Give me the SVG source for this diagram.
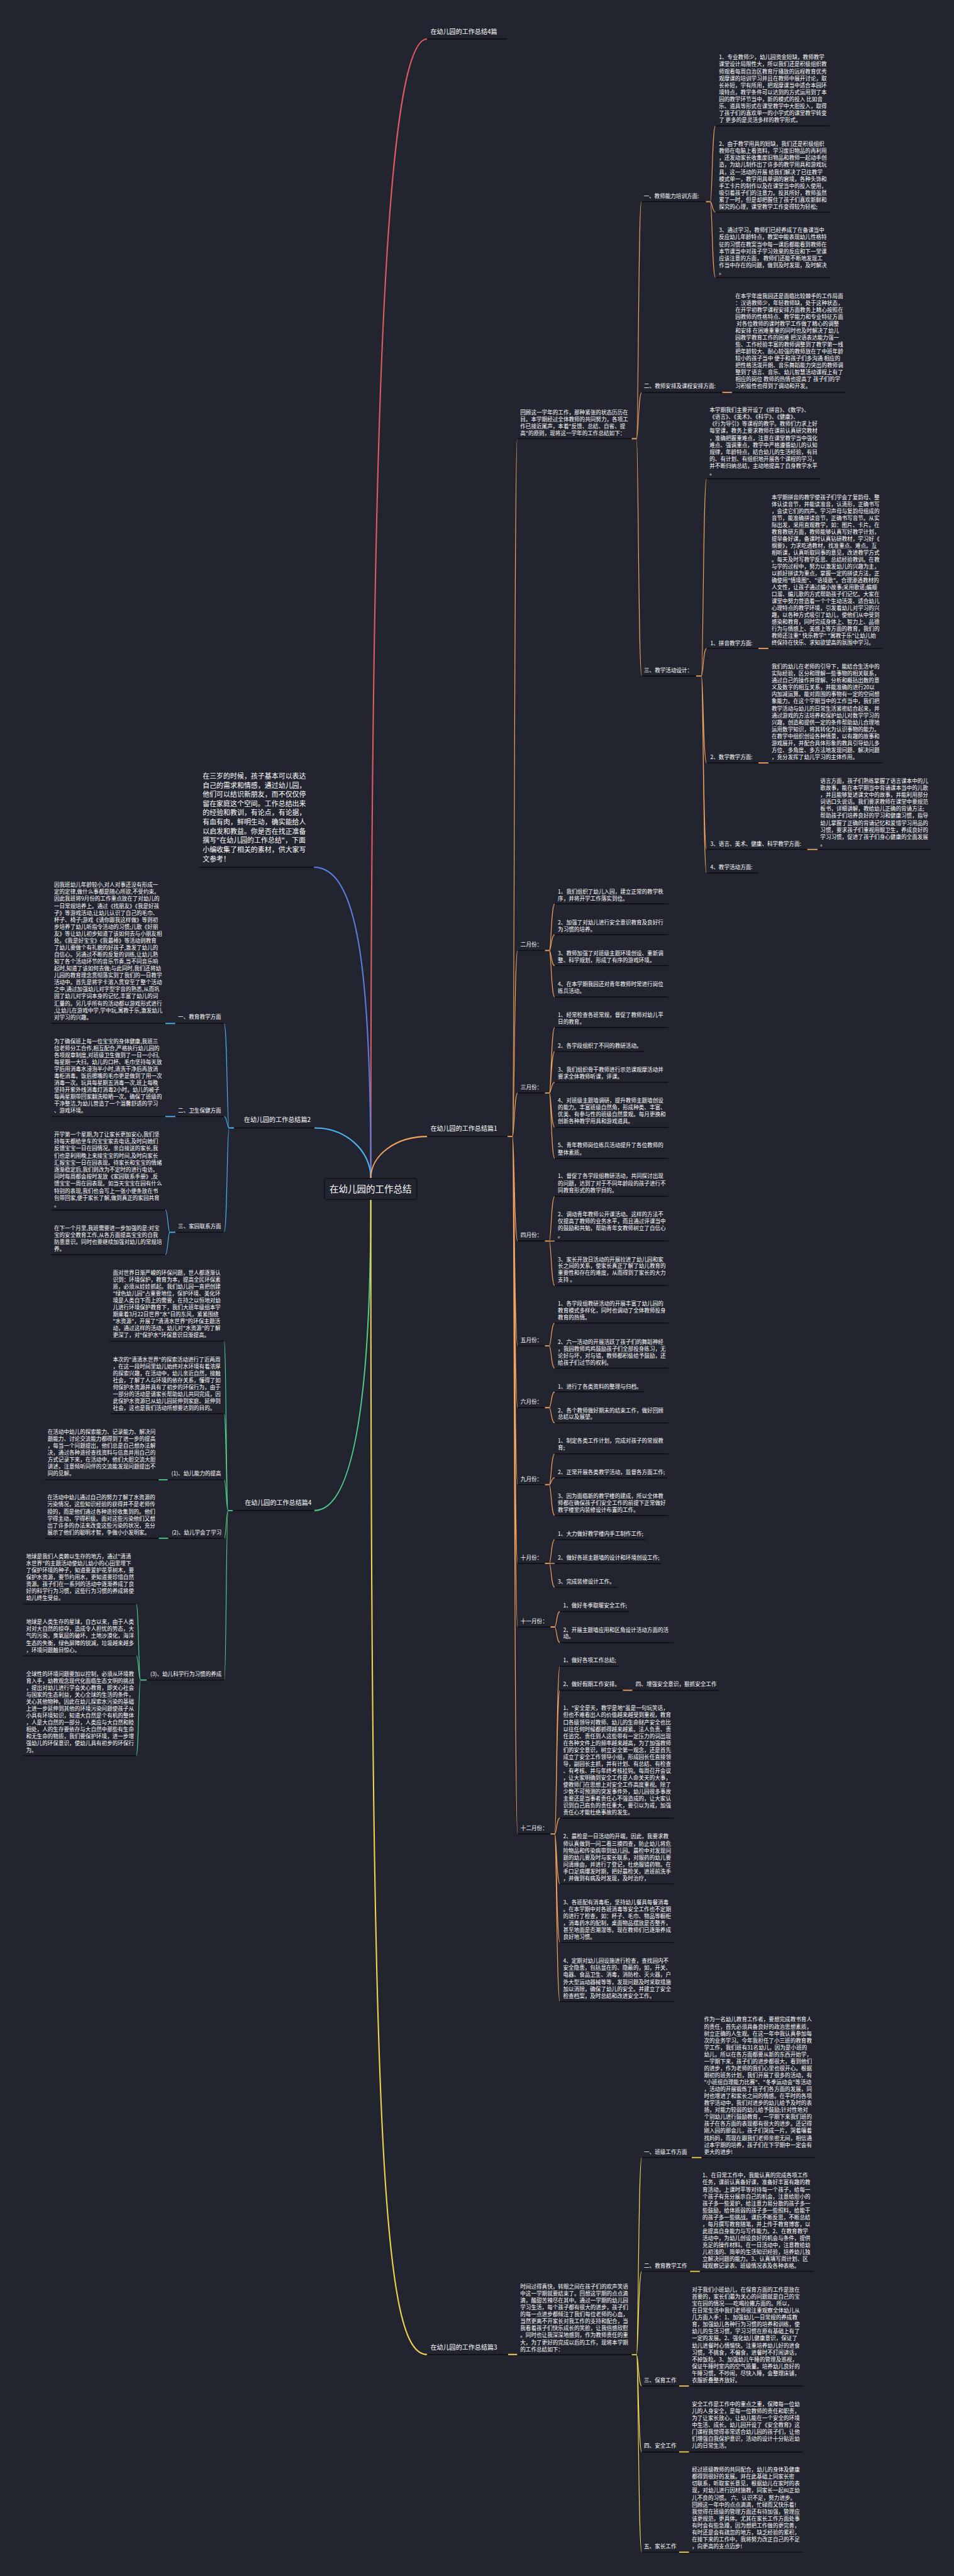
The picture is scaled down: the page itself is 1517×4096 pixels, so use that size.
<svg xmlns="http://www.w3.org/2000/svg" width="1517" height="4096" viewBox="0 0 1517 4096">
<style>
.t{font-family:"Noto Sans CJK SC","Noto Sans",sans-serif;font-size:14.5px;fill:#ffffff}
.l1{font-size:17px}
.intro{font-size:18.5px}
.ctr{font-size:24.5px}
.e{text-anchor:end}
.ul{stroke:#0c0d11;stroke-width:2.5;fill:none}
.c{fill:none;stroke-width:2}
.m{stroke-width:3.5}
.st{stroke-width:3}
.o{stroke:#f4a25c}.y{stroke:#f2d54c}.b{stroke:#4db6ee}.g{stroke:#4fcf8c}.r{stroke:#e35a62}.bl{stroke:#5b7de0}
</style>
<rect width="1517" height="4096" fill="#222530"/>
<g transform="scale(0.5926)">
<g id="connectors">
<!-- main -->
<path class="c m r" d="M995,3161 C995,1200 1030,104.5 1146,104.5"/>
<path class="c m bl" d="M995,3161 C995,2600 960,2327 842.3,2327"/>
<path class="c m b" d="M995,3161 C995,3086.8 927.3,3026.5 843.9,3026.5"/>
<path class="c m o" d="M995,3161 C995,3099.4 1062.6,3049.5 1146,3049.5"/>
<path class="c m g" d="M995,3219 C995,3800 940,4053 843.8,4053"/>
<path class="c m y" d="M995,3219 C995,5800 1030,6317.5 1146,6317.5"/>
<!-- orange 篇1 -->
<path class="c st o" d="M1362,3049.5 H1375"/>
<path class="c o" d="M1375,3049.5 C1380,3049.5 1380,1177 1388,1177 M1375,3049.5 C1380,3049.5 1380,2550.5 1389,2550.5 M1375,3049.5 C1380,3049.5 1380,2932.6 1389,2932.6 M1375,3049.5 C1380,3049.5 1380,3330 1389,3330 M1375,3049.5 C1380,3049.5 1380,3611 1389,3611 M1375,3049.5 C1380,3049.5 1380,3777 1389,3777 M1375,3049.5 C1380,3049.5 1380,3983.5 1389,3983.5 M1375,3049.5 C1380,3049.5 1380,4195 1389,4195 M1375,3049.5 C1380,3049.5 1380,4365.5 1389,4365.5 M1375,3049.5 C1380,3049.5 1380,4921 1389,4921"/>
<path class="c st o" d="M1695,1177 H1708 M1894,541 H1906 M1938,1052.8 H1964 M1868,1813.7 H1882 M2035,1740 H2062 M2035,2047 H2062 M2166,2279 H2194"/>
<path class="c o" d="M1708,1177 C1713,1177 1713,541 1721,541 M1708,1177 C1713,1177 1713,1052.8 1722,1052.8 M1708,1177 C1713,1177 1713,1813.7 1722,1813.7"/>
<path class="c o" d="M1906,541 C1911,541 1911,337.5 1920,337.5 M1906,541 C1911,541 1911,569.5 1920,569.5 M1906,541 C1911,541 1911,745 1920,745"/>
<path class="c o" d="M1882,1813.7 C1887,1813.7 1887,1284.7 1896,1284.7 M1882,1813.7 C1887,1813.7 1887,1740 1896,1740 M1882,1813.7 C1887,1813.7 1887,2047 1896,2047 M1882,1813.7 C1887,1813.7 1887,2279 1896,2279 M1882,1813.7 C1887,1813.7 1887,2342.7 1896,2342.7"/>
<path class="c st o" d="M1462,2550.5 H1474 M1462,2932.6 H1474 M1462,3330 H1474 M1462,3611 H1474 M1462,3777 H1474 M1462,3983.5 H1474 M1462,4195 H1474 M1477,4365.5 H1488.5 M1477,4921 H1488.5 M1671,4535.4 H1697"/>
<path class="c o" d="M1474,2550.5 C1479,2550.5 1479,2425.5 1488.5,2425.5 M1474,2550.5 C1479,2550.5 1479,2508 1488.5,2508 M1474,2550.5 C1479,2550.5 1479,2591 1488.5,2591 M1474,2550.5 C1479,2550.5 1479,2675 1488.5,2675"/>
<path class="c o" d="M1474,2932.6 C1479,2932.6 1479,2757 1488.5,2757 M1474,2932.6 C1479,2932.6 1479,2821 1488.5,2821 M1474,2932.6 C1479,2932.6 1479,2904 1488.5,2904 M1474,2932.6 C1479,2932.6 1479,3025 1488.5,3025 M1474,2932.6 C1479,2932.6 1479,3108 1488.5,3108"/>
<path class="c o" d="M1474,3330 C1479,3330 1479,3210 1488.5,3210 M1474,3330 C1479,3330 1479,3330 1488.5,3330 M1474,3330 C1479,3330 1479,3449.7 1488.5,3449.7"/>
<path class="c o" d="M1474,3611 C1479,3611 1479,3550 1488.5,3550 M1474,3611 C1479,3611 1479,3671 1488.5,3671"/>
<path class="c o" d="M1474,3777 C1479,3777 1479,3734.5 1488.5,3734.5 M1474,3777 C1479,3777 1479,3818 1488.5,3818"/>
<path class="c o" d="M1474,3983.5 C1479,3983.5 1479,3901 1488.5,3901 M1474,3983.5 C1479,3983.5 1479,3965 1488.5,3965 M1474,3983.5 C1479,3983.5 1479,4066.5 1488.5,4066.5"/>
<path class="c o" d="M1474,4195 C1479,4195 1479,4131 1488.5,4131 M1474,4195 C1479,4195 1479,4195 1488.5,4195 M1474,4195 C1479,4195 1479,4259 1488.5,4259"/>
<path class="c o" d="M1488.5,4365.5 C1493.5,4365.5 1493.5,4324 1502.5,4324 M1488.5,4365.5 C1493.5,4365.5 1493.5,4407.4 1502.5,4407.4"/>
<path class="c o" d="M1488.5,4921 C1493.5,4921 1493.5,4471 1502.5,4471 M1488.5,4921 C1493.5,4921 1493.5,4535.4 1502.5,4535.4 M1488.5,4921 C1493.5,4921 1493.5,4878 1502.5,4878 M1488.5,4921 C1493.5,4921 1493.5,5055 1502.5,5055 M1488.5,4921 C1493.5,4921 1493.5,5212 1502.5,5212 M1488.5,4921 C1493.5,4921 1493.5,5370.4 1502.5,5370.4"/>
<!-- yellow 篇3 -->
<path class="c st y" d="M1363,6317.5 H1388 M1695,6318 H1708 M1856,5789 H1882.5 M1851.5,6094.5 H1878 M1822,6402 H1849 M1822,6579 H1849 M1822,6848 H1849"/>
<path class="c y" d="M1708,6318 C1713,6318 1713,5789 1722,5789 M1708,6318 C1713,6318 1713,6094.5 1722,6094.5 M1708,6318 C1713,6318 1713,6402 1722,6402 M1708,6318 C1713,6318 1713,6579 1722,6579 M1708,6318 C1713,6318 1713,6848 1722,6848"/>
<!-- light blue 篇2 -->
<path class="c st b" d="M628,3026.5 H614.5 M470.6,2746 H443.6 M470.6,2996 H443.6 M470.6,3306.5 H455.6"/>
<path class="c b" d="M614.5,3026.5 C609.5,3026.5 609.5,2746 601.3,2746 M614.5,3026.5 C609.5,3026.5 609.5,2996 601.3,2996 M614.5,3026.5 C609.5,3026.5 609.5,3306.5 601.3,3306.5"/>
<path class="c b" d="M455.6,3306.5 C450.6,3306.5 450.6,3246.6 443.6,3246.6 M455.6,3306.5 C450.6,3306.5 450.6,3366.5 443.6,3366.5"/>
<!-- green 篇4 -->
<path class="c st g" d="M625,4053 H612 M450,3970.5 H425.6 M451.6,4127.5 H426 M393.8,4508 H377"/>
<path class="c g" d="M612,4053 C607,4053 607,3598.7 601.3,3598.7 M612,4053 C607,4053 607,3793 601.3,3793 M612,4053 C607,4053 607,3970.5 601.3,3970.5 M612,4053 C607,4053 607,4127.5 602,4127.5 M612,4053 C607,4053 607,4508 602,4508"/>
<path class="c g" d="M377,4508 C372,4508 372,4304 365.6,4304 M377,4508 C372,4508 372,4443 365.6,4443 M377,4508 C372,4508 372,4711 365.6,4711"/>
</g>

<g id="n-root">
<rect x="870.4" y="3161.7" width="248" height="56.7" rx="6" fill="#222530" stroke="#0c0d11" stroke-width="2"/>
<text class="t ctr" x="994.4" y="3199" text-anchor="middle">在幼儿园的工作总结</text>
</g>

<g id="n-top">
<text class="t l1" x="1155" y="90.3">在幼儿园的工作总结4篇</text>
<path class="ul" d="M1146,104.5 H1361"/>
</g>

<g id="n-intro">
<text class="t intro" x="543.7" y="2089"><tspan>在三岁的时候，孩子基本可以表达</tspan><tspan x="543.7" dy="24.7">自己的需求和情感，通过幼儿园，</tspan><tspan x="543.7" dy="24.7">他们可以结识新朋友，而不仅仅停</tspan><tspan x="543.7" dy="24.7">留在家庭这个空间。工作总结出来</tspan><tspan x="543.7" dy="24.7">的经验和教训，有论点，有论据，</tspan><tspan x="543.7" dy="24.7">有血有肉，鲜明生动，确实能给人</tspan><tspan x="543.7" dy="24.7">以启发和教益。你是否在找正准备</tspan><tspan x="543.7" dy="24.7">撰写"在幼儿园的工作总结"，下面</tspan><tspan x="543.7" dy="24.7">小编收集了相关的素材，供大家写</tspan><tspan x="543.7" dy="24.7">文参考！</tspan></text>
<path class="ul" d="M534.8,2327 H842.3"/>
</g>

<!-- ================= 篇1 ================= -->
<g id="n-p1">
<text class="t l1" x="1155" y="3033.3">在幼儿园的工作总结篇1</text>
<path class="ul" d="M1146,3049.5 H1362"/>
</g>
<g id="n-p1-review">
<text class="t" x="1396" y="1111.8"><tspan>回顾这一学年的工作，那种紧张的状态历历在</tspan><tspan x="1396" dy="18.7">目。本学期经过全体教师的共同努力，各项工</tspan><tspan x="1396" dy="18.7">作已接近尾声，本着"反馈、总结、自省、提</tspan><tspan x="1396" dy="18.7">高"的原则，现将这一学年的工作总结如下：</tspan></text>
<path class="ul" d="M1388,1177 H1695"/>
</g>
<g id="n-p1-a">
<text class="t" x="1727" y="532.3">一、教师能力培训方面:</text>
<path class="ul" d="M1721,541 H1894"/>
</g>
<g id="n-p1-a1">
<text class="t" x="1929" y="159.3"><tspan>1、专业教师少，幼儿园资金短缺，教师教学</tspan><tspan x="1929" dy="18.7">课堂设计局限性大，所以我们还是积极组织教</tspan><tspan x="1929" dy="18.7">师观看每周自治区教育厅播放的远程教育优秀</tspan><tspan x="1929" dy="18.7">观摩课的培训学习并且在教师中展开讨论，取</tspan><tspan x="1929" dy="18.7">长补短，学有所用，把观摩课当中适合本园环</tspan><tspan x="1929" dy="18.7">境特点，教学条件可以达到的方式运用到了本</tspan><tspan x="1929" dy="18.7">园的教学环节当中，新的模式的投入 比如音</tspan><tspan x="1929" dy="18.7">乐、道具等形式在课堂教学中大胆投入，取得</tspan><tspan x="1929" dy="18.7">了孩子们的喜欢单一的小学式的课堂教学转变</tspan><tspan x="1929" dy="18.7">了 更多的是灵活多样的教学形式。</tspan></text>
<path class="ul" d="M1920,337.5 H2226"/>
</g>
<g id="n-p1-a2">
<text class="t" x="1929" y="391.8"><tspan>2、由于教学用具的短缺，我们还是积极组织</tspan><tspan x="1929" dy="18.7">教师在电脑上看资料，学习废旧物品的再利用</tspan><tspan x="1929" dy="18.7">，还发动家长收集废旧物品和教师一起动手创</tspan><tspan x="1929" dy="18.7">造，为幼儿制作出了许多的教学用具和游戏玩</tspan><tspan x="1929" dy="18.7">具，这一活动的开展 给我们解决了已往教学</tspan><tspan x="1929" dy="18.7">模式单一，教学用具单调的窘境，各种头饰和</tspan><tspan x="1929" dy="18.7">手工卡片的制作以及在课堂当中的投入使用，</tspan><tspan x="1929" dy="18.7">吸引着孩子们的注意力。投其所好，教师虽然</tspan><tspan x="1929" dy="18.7">累了一时，但是却把握住了孩子们喜欢新鲜和</tspan><tspan x="1929" dy="18.7">探究的心理，课堂教学工作变得较为轻松;</tspan></text>
<path class="ul" d="M1920,569.5 H2226"/>
</g>
<g id="n-p1-a3">
<text class="t" x="1929" y="623.3"><tspan>3、通过学习，教师们已经养成了在备课当中</tspan><tspan x="1929" dy="18.7">反应幼儿年龄特点，教案中能表现幼儿性格特</tspan><tspan x="1929" dy="18.7">征的习惯在教案当中每一课后都能看到教师在</tspan><tspan x="1929" dy="18.7">本节课当中对孩子学习效果的反应和下一堂课</tspan><tspan x="1929" dy="18.7">应该注意的方面， 教师们还能不断地发现工</tspan><tspan x="1929" dy="18.7">作当中存在的问题，做到及时发现，及时解决</tspan><tspan x="1929" dy="18.7">。</tspan></text>
<path class="ul" d="M1920,745 H2226"/>
</g>
<g id="n-p1-b">
<text class="t" x="1728" y="1042">二、教师安排及课程安排方面:</text>
<path class="ul" d="M1722,1052.8 H1938"/>
</g>
<g id="n-p1-b1">
<text class="t" x="1973" y="799.3"><tspan>在本学年度我园还是面临比较棘手的工作局面</tspan><tspan x="1973" dy="18.6">：汉语教师少，年轻教师缺，处于这种状态，</tspan><tspan x="1973" dy="18.6">在开学初教学课程安排方面教务上精心按照在</tspan><tspan x="1973" dy="18.6">园教师的性格特点、教学能力和专业特征方面</tspan><tspan x="1973" dy="18.6"> 对各位教师的课时教学工作做了精心的调整</tspan><tspan x="1973" dy="18.6">和安排 在困难重重的同时也及时解决了幼儿</tspan><tspan x="1973" dy="18.6">园教学教育工作的困难 把汉语表达能力强一</tspan><tspan x="1973" dy="18.6">些、工作经验丰富的教师调整到了教学第一线</tspan><tspan x="1973" dy="18.6">把年龄较大、耐心较强的教师放在了中班年龄</tspan><tspan x="1973" dy="18.6">较小的孩子当中 便于和孩子们多沟通 相应的</tspan><tspan x="1973" dy="18.6">把性格活泼开朗、音乐舞蹈能力突出的教师调</tspan><tspan x="1973" dy="18.6">整到了语言、音乐、幼儿智慧活动课程上有了</tspan><tspan x="1973" dy="18.6">相应的岗位 教师的热情也提高了 孩子们的学</tspan><tspan x="1973" dy="18.6">习积极性也得到了调动和开发。</tspan></text>
<path class="ul" d="M1964,1052.8 H2269"/>
</g>
<g id="n-p1-c">
<text class="t" x="1728" y="1804.3">三、教学活动设计：</text>
<path class="ul" d="M1722,1813.7 H1868"/>
</g>
<g id="n-p1-c0">
<text class="t" x="1904" y="1105.3"><tspan>本学期我们主要开设了《拼音》、《数学》、</tspan><tspan x="1904" dy="18.8">《语言》、《美术》、《科学》、《健康》、</tspan><tspan x="1904" dy="18.8">《行为导引》等课程的教学。教师们力求上好</tspan><tspan x="1904" dy="18.8">每堂课，教务上要求教师在课前认真研究教材</tspan><tspan x="1904" dy="18.8">，准确把握重难点，注意在课堂教学当中强化</tspan><tspan x="1904" dy="18.8">难点、强调重点，教学中严格遵循幼儿的认知</tspan><tspan x="1904" dy="18.8">规律，年龄特点，结合幼儿的生活经验，有目</tspan><tspan x="1904" dy="18.8">的、有计划、有组织地开展各个课程的学习，</tspan><tspan x="1904" dy="18.8">并不断归纳总结，主动地提高了自身教学水平</tspan><tspan x="1904" dy="18.8">。</tspan></text>
<path class="ul" d="M1896,1284.7 H2201"/>
</g>
<g id="n-p1-c1">
<text class="t" x="1906" y="1730.7">1、拼音教学方面:</text>
<path class="ul" d="M1896,1740 H2035"/>
</g>
<g id="n-p1-c1t">
<text class="t" x="2070.5" y="1339.1"><tspan>本学期拼音的教学使孩子们学会了复韵母、整</tspan><tspan x="2070.5" dy="18.62">体认读音节，并能读准音，认清形，正确书写</tspan><tspan x="2070.5" dy="18.62">，会读它们的四声。学习声母与复韵母组成的</tspan><tspan x="2070.5" dy="18.62">音节，能准确拼读音节，正确书写音节。从实</tspan><tspan x="2070.5" dy="18.62">际出发，采用直观教学，如：图片、卡片。在</tspan><tspan x="2070.5" dy="18.62">教育教研方面，教师能够认真写好教学计划，</tspan><tspan x="2070.5" dy="18.62">提早备好课，备课时认真钻研教材，学习好《</tspan><tspan x="2070.5" dy="18.62">纲要》，力求吃透教材，找准重点、难点。互</tspan><tspan x="2070.5" dy="18.62">相听课，认真听取同事的意见，改进教学方式</tspan><tspan x="2070.5" dy="18.62">。每天及时写教学反思、总结经验教训。在教</tspan><tspan x="2070.5" dy="18.62">与学的过程中，努力以激发幼儿的兴趣为主，</tspan><tspan x="2070.5" dy="18.62">以抓好拼读为重点，掌握一定的拼读方法，正</tspan><tspan x="2070.5" dy="18.62">确使用"情境图"、"语境歌"。合理渗透教材的</tspan><tspan x="2070.5" dy="18.62">人文性，让孩子通过编小故事;采用歌谣;编顺</tspan><tspan x="2070.5" dy="18.62">口溜、编儿歌的方式帮助孩子们记忆。大家在</tspan><tspan x="2070.5" dy="18.62">课堂中努力营造着一个个生动活泼、适合幼儿</tspan><tspan x="2070.5" dy="18.62">心理特点的教学环境，引发着幼儿对学习的兴</tspan><tspan x="2070.5" dy="18.62">趣，以各种方式吸引了幼儿，使他们从中受到</tspan><tspan x="2070.5" dy="18.62">感染和教育，同时完成身体上、智力上、品德</tspan><tspan x="2070.5" dy="18.62">行为与情感上、美感上等方面的教育，我们的</tspan><tspan x="2070.5" dy="18.62">教师还注重" 快乐教学" "寓教于乐"让幼儿始</tspan><tspan x="2070.5" dy="18.62">终保持在快乐、求知欲望高的氛围中学习。</tspan></text>
<path class="ul" d="M2062,1740 H2367"/>
</g>
<g id="n-p1-c2">
<text class="t" x="1906" y="2036.3">2、数学教学方面:</text>
<path class="ul" d="M1896,2047 H2035"/>
</g>
<g id="n-p1-c2t">
<text class="t" x="2070.5" y="1794.3"><tspan>我们的幼儿在老师的引导下，能结合生活中的</tspan><tspan x="2070.5" dy="18.62">实际经验，区分和理解一些事物的相关联系，</tspan><tspan x="2070.5" dy="18.62">通过自己的操作并理解、分析和概括出数的意</tspan><tspan x="2070.5" dy="18.62">义及数字的相互关系，并能准确的进行20以</tspan><tspan x="2070.5" dy="18.62">内加减运算。能对周围的事物有一定的空间想</tspan><tspan x="2070.5" dy="18.62">象能力。在这个学期当中的工作当中，我们把</tspan><tspan x="2070.5" dy="18.62">教学活动与幼儿的日常生活紧密结合起来，并</tspan><tspan x="2070.5" dy="18.62">通过游戏的方法培养和保护幼儿对数学学习的</tspan><tspan x="2070.5" dy="18.62">兴趣，创造和提供一定的条件帮助幼儿合理地</tspan><tspan x="2070.5" dy="18.62">运用数学知识，将其转化为认识事物的能力。</tspan><tspan x="2070.5" dy="18.62">在教学中组织创设各种情景，以有趣的故事和</tspan><tspan x="2070.5" dy="18.62">游戏展开，并配合具体形象的教具引导幼儿多</tspan><tspan x="2070.5" dy="18.62">方位、多角度、多方法地发现问题、解决问题</tspan><tspan x="2070.5" dy="18.62">，充分发挥了幼儿学习的主体作用。</tspan></text>
<path class="ul" d="M2062,2047 H2367"/>
</g>
<g id="n-p1-c3">
<text class="t" x="1906" y="2269">3、语言、美术、健康、科学教学方面:</text>
<path class="ul" d="M1896,2279 H2166"/>
</g>
<g id="n-p1-c3t">
<text class="t" x="2201" y="2101.3"><tspan>语言方面，孩子们熟练掌握了语言课本中的儿</tspan><tspan x="2201" dy="18.65">歌故事，能在本学期当中背诵课本当中的儿歌</tspan><tspan x="2201" dy="18.65">，并且能够复述课文中的故事，并能利用部分</tspan><tspan x="2201" dy="18.65">词语口头说话。我们要求教师在课堂中要规范</tspan><tspan x="2201" dy="18.65">板书，详细讲解，教给幼儿正确的背诵方法;</tspan><tspan x="2201" dy="18.65">帮助孩子们培养良好的学习和健康习惯，指导</tspan><tspan x="2201" dy="18.65">幼儿掌握了正确的背诵记忆和爱惜学习用品的</tspan><tspan x="2201" dy="18.65">习惯，要求孩子们重视用眼卫生，养成良好的</tspan><tspan x="2201" dy="18.65">学习习惯，促进了孩子们身心健康的全面发展</tspan><tspan x="2201" dy="18.65">。</tspan></text>
<path class="ul" d="M2194,2279 H2497"/>
</g>
<g id="n-p1-c4">
<text class="t" x="1906" y="2332.3">4、教学活动方面:</text>
<path class="ul" d="M1896,2342.7 H2035"/>
</g>

<!-- months -->
<g id="n-feb">
<text class="t" x="1397" y="2540.3">二月份：</text>
<path class="ul" d="M1389,2550.5 H1462"/>
<text class="t" x="1497" y="2397.3"><tspan>1、我们组织了幼儿入园，建立正常的教学秩</tspan><tspan x="1497" dy="19.1">序，并将开学工作落实到位。</tspan></text>
<path class="ul" d="M1488.5,2425.5 H1793"/>
<text class="t" x="1497" y="2479.9"><tspan>2、加强了对幼儿进行安全意识教育及良好行</tspan><tspan x="1497" dy="19.1">为习惯的培养。</tspan></text>
<path class="ul" d="M1488.5,2508 H1793"/>
<text class="t" x="1497" y="2562.8"><tspan>3、教师加强了对班级主题环境创设、重新调</tspan><tspan x="1497" dy="19.1">整、科学规划，形成了有序的游戏环境。</tspan></text>
<path class="ul" d="M1488.5,2591 H1793"/>
<text class="t" x="1497" y="2645.7"><tspan>4、在本学期我园还对青年教师时常进行岗位</tspan><tspan x="1497" dy="19.1">练兵活动。</tspan></text>
<path class="ul" d="M1488.5,2675 H1793"/>
</g>
<g id="n-mar">
<text class="t" x="1397" y="2921.9">三月份：</text>
<path class="ul" d="M1389,2932.6 H1462"/>
<text class="t" x="1497" y="2728.7"><tspan>1、经常检查各班常规，督促了教师对幼儿平</tspan><tspan x="1497" dy="19.1">日的教育。</tspan></text>
<path class="ul" d="M1488.5,2757 H1793"/>
<text class="t" x="1497" y="2811.6">2、各学段组织了不同的教研活动。</text>
<path class="ul" d="M1488.5,2821 H1728"/>
<text class="t" x="1497" y="2875.3"><tspan>3、我们组织骨干教师进行示范课观摩活动并</tspan><tspan x="1497" dy="19.1">要求全体教师听课，评课。</tspan></text>
<path class="ul" d="M1488.5,2904 H1793"/>
<text class="t" x="1497" y="2958.3"><tspan>4、对班级主题墙调研，提升教师主题墙创设</tspan><tspan x="1497" dy="18.7">的能力。丰富班级自然角，形成种类、丰富、</tspan><tspan x="1497" dy="18.7">优美、有参与性的班级自然景观。每月更换和</tspan><tspan x="1497" dy="18.7">创新各种教学用具和游戏道具。</tspan></text>
<path class="ul" d="M1488.5,3025 H1793"/>
<text class="t" x="1497" y="3078.3"><tspan>5、青年教师岗位练兵活动提升了各位教师的</tspan><tspan x="1497" dy="19.1">整体素质。</tspan></text>
<path class="ul" d="M1488.5,3108 H1793"/>
</g>
<g id="n-apr">
<text class="t" x="1397" y="3319.3">四月份：</text>
<path class="ul" d="M1389,3330 H1462"/>
<text class="t" x="1497" y="3161.1"><tspan>1、督促了各学段组教研活动，共同探讨出现</tspan><tspan x="1497" dy="19.1">的问题，达到了对于不同年龄段的孩子进行不</tspan><tspan x="1497" dy="19.1">同教育形式的教学目的。</tspan></text>
<path class="ul" d="M1488.5,3210 H1793"/>
<text class="t" x="1497" y="3263.3"><tspan>2、调动青年教师公开课活动。这样的方法不</tspan><tspan x="1497" dy="19">仅提高了教师的业务水平，而且通过评课当中</tspan><tspan x="1497" dy="19">的鼓励和共勉，帮助青年女教师树立了自信心</tspan><tspan x="1497" dy="19">。</tspan></text>
<path class="ul" d="M1488.5,3330 H1793"/>
<text class="t" x="1497" y="3384.3"><tspan>3、家长开放日活动的开展拉进了幼儿园和家</tspan><tspan x="1497" dy="18.5">长之间的关系，使家长真正了解了幼儿教育的</tspan><tspan x="1497" dy="18.5">重要性和存在的难度，从而得到了家长的大力</tspan><tspan x="1497" dy="18.5">支持 。</tspan></text>
<path class="ul" d="M1488.5,3449.7 H1793"/>
</g>
<g id="n-may">
<text class="t" x="1397" y="3601">五月份：</text>
<path class="ul" d="M1389,3611 H1462"/>
<text class="t" x="1497" y="3503.3"><tspan>1、各学段组教研活动的开展丰富了幼儿园的</tspan><tspan x="1497" dy="18.6">教育模式多样化，同时也调动了全体教师投身</tspan><tspan x="1497" dy="18.6">教育的热情。</tspan></text>
<path class="ul" d="M1488.5,3550 H1793"/>
<text class="t" x="1497" y="3605.3"><tspan>2、六一活动的开展活跃了孩子们的舞蹈神经</tspan><tspan x="1497" dy="18.6">，我园教师鸡鸡鼓励孩子们全部投身练习，无</tspan><tspan x="1497" dy="18.6">论好与坏，对与错，教师都积极给予鼓励，还</tspan><tspan x="1497" dy="18.6">给孩子们过节的权利。</tspan></text>
<path class="ul" d="M1488.5,3671 H1793"/>
</g>
<g id="n-jun">
<text class="t" x="1397" y="3766.3">六月份：</text>
<path class="ul" d="M1389,3777 H1462"/>
<text class="t" x="1497" y="3725.3">1、进行了各类资料的整理与归档。</text>
<path class="ul" d="M1488.5,3734.5 H1728"/>
<text class="t" x="1497" y="3789.3"><tspan>2、各个教师做好期末的结束工作，做好回顾</tspan><tspan x="1497" dy="18.3">总结以及展望。</tspan></text>
<path class="ul" d="M1488.5,3818 H1793"/>
</g>
<g id="n-sep">
<text class="t" x="1397" y="3973.3">九月份：</text>
<path class="ul" d="M1389,3983.5 H1462"/>
<text class="t" x="1497" y="3871.8"><tspan>1、制定各类工作计划，完成对孩子的常规教</tspan><tspan x="1497" dy="18.2">育;</tspan></text>
<path class="ul" d="M1488.5,3901 H1793"/>
<text class="t" x="1497" y="3954.8">2、正常开展各类教学活动，监督各方面工作;</text>
<path class="ul" d="M1488.5,3965 H1790"/>
<text class="t" x="1497" y="4019.1"><tspan>3、因为面临新的教学楼的建成，所以全体教</tspan><tspan x="1497" dy="18.6">师都在确保孩子们安全工作的前提下正常做好</tspan><tspan x="1497" dy="18.6">教学楼室内装修设计布置的工作。</tspan></text>
<path class="ul" d="M1488.5,4066.5 H1793"/>
</g>
<g id="n-oct">
<text class="t" x="1397" y="4185.1">十月份：</text>
<path class="ul" d="M1389,4195 H1462"/>
<text class="t" x="1497" y="4120.9">1、大力做好教学楼内手工制作工作;</text>
<path class="ul" d="M1488.5,4131 H1732.6"/>
<text class="t" x="1497" y="4185.1">2、做好各班主题墙的设计和环境创设工作;</text>
<path class="ul" d="M1488.5,4195 H1774.7"/>
<text class="t" x="1497" y="4248.7">3、完成装修设计工作。</text>
<path class="ul" d="M1488.5,4259 H1655.7"/>
</g>
<g id="n-nov">
<text class="t" x="1397" y="4355.3">十一月份：</text>
<path class="ul" d="M1389,4365.5 H1477"/>
<text class="t" x="1511" y="4312.9">1、做好冬季取暖安全工作;</text>
<path class="ul" d="M1502.5,4324 H1688.8"/>
<text class="t" x="1511" y="4378.3"><tspan>2、开展主题墙应用和区角设计活动方面的活</tspan><tspan x="1511" dy="18.3">动。</tspan></text>
<path class="ul" d="M1502.5,4407.4 H1807"/>
</g>
<g id="n-dec">
<text class="t" x="1397" y="4910.3">十二月份：</text>
<path class="ul" d="M1389,4921 H1477"/>
<text class="t" x="1511" y="4460.3">1、做好各项工作总结;</text>
<path class="ul" d="M1502.5,4471 H1659.7"/>
<text class="t" x="1511" y="4524.3">2、做好假期工作安排。</text>
<path class="ul" d="M1502.5,4535.4 H1671"/>
<text class="t" x="1511" y="4588.9"><tspan>1、"安全是天，教学是地"虽是一句玩笑话，</tspan><tspan x="1511" dy="18.67">但也不难看出人的价值越来越受到重视，教育</tspan><tspan x="1511" dy="18.67">口各级领导对教师、幼儿的生命财产安全也比</tspan><tspan x="1511" dy="18.67">以往任何时候都抓得越来越紧。法人负责、责</tspan><tspan x="1511" dy="18.67">任追究、责任到人这些带有一定压力的词出现</tspan><tspan x="1511" dy="18.67">在各种文件上的频率越来越高，为了加强教师</tspan><tspan x="1511" dy="18.67">们的安全意识，树立安全第一观念，还是首先</tspan><tspan x="1511" dy="18.67">成立了安全工作领导小组，形成园长任直接领</tspan><tspan x="1511" dy="18.67">导，副园长主抓，并有计划、有总结、有检查</tspan><tspan x="1511" dy="18.67">、有考核、并与年终考核挂钩。每周召开会议</tspan><tspan x="1511" dy="18.67">，让大家明确到安全工作是人命关天的大事，</tspan><tspan x="1511" dy="18.67">使教师门在思想上对安全工作高度重视。除了</tspan><tspan x="1511" dy="18.67">少数不可预测的突发事件外，幼儿园很多事故</tspan><tspan x="1511" dy="18.67">主要还是当事者责任心不强造成的，让大家认</tspan><tspan x="1511" dy="18.67">识到自己肩负的责任重大，要引以为戒，加强</tspan><tspan x="1511" dy="18.67">责任心才能杜绝事故的发生。</tspan></text>
<path class="ul" d="M1502.5,4878 H1807"/>
<text class="t" x="1511" y="4933.3"><tspan>2、晨检是一日活动的开端，因此，我要求教</tspan><tspan x="1511" dy="18.7">师认真做到一问二看三摸四查，防止幼儿将危</tspan><tspan x="1511" dy="18.7">险物品和传染病带到幼儿园。晨检中对发现问</tspan><tspan x="1511" dy="18.7">题的幼儿要及时与家长联系，对服药的幼儿要</tspan><tspan x="1511" dy="18.7">问清缘由，并进行了登记，杜绝服错药物。在</tspan><tspan x="1511" dy="18.7">手口足病爆发时期，把好晨检关，进班前洗手</tspan><tspan x="1511" dy="18.7">，并做到有病及时发现，及时治疗，</tspan></text>
<path class="ul" d="M1502.5,5055 H1807"/>
<text class="t" x="1511" y="5109"><tspan>3、各班配有消毒柜，坚持幼儿餐具每餐消毒</tspan><tspan x="1511" dy="18.6">。在本学期中对各班消毒等安全工作也不定期</tspan><tspan x="1511" dy="18.6">的进行了检查，如：杯子、毛巾、物品等橱柜</tspan><tspan x="1511" dy="18.6">，消毒药水的配制，桌面物品摆放是否整齐，</tspan><tspan x="1511" dy="18.6">甚至地面是否潮湿等。现在教师们已逐渐养成</tspan><tspan x="1511" dy="18.6">良好地习惯。</tspan></text>
<path class="ul" d="M1502.5,5212 H1807"/>
<text class="t" x="1511" y="5266.9"><tspan>4、定期对幼儿园设施进行检查，查找园内不</tspan><tspan x="1511" dy="18.76">安全隐患，包括显在的、隐蔽的，如，开关、</tspan><tspan x="1511" dy="18.76">电器、食品卫生、消毒，消防栓、灭火器，户</tspan><tspan x="1511" dy="18.76">外大型运动器械等等，发现问题及时采取措施</tspan><tspan x="1511" dy="18.76">加以消除，确保了幼儿的安全。并建立了安全</tspan><tspan x="1511" dy="18.76">检查档案，及时总结和改进安全工作。</tspan></text>
<path class="ul" d="M1502.5,5370.4 H1807"/>
</g>
<g id="n-dec-safety">
<text class="t" x="1705.7" y="4524.3">四、增强安全意识，狠抓安全工作</text>
<path class="ul" d="M1697,4535.4 H1929"/>
</g>

<!-- ================= 篇3 ================= -->
<g id="n-p3">
<text class="t l1" x="1155" y="6304">在幼儿园的工作总结篇3</text>
<path class="ul" d="M1146,6317.5 H1363"/>
</g>
<g id="n-p3-intro">
<text class="t" x="1396" y="6140.8"><tspan>时间过得真快，转眼之间在孩子们的欢声笑语</tspan><tspan x="1396" dy="18.66">中这一学期就要结束了。回想这学期的点点滴</tspan><tspan x="1396" dy="18.66">滴，酸甜苦辣尽在其中。通过一学期的幼儿园</tspan><tspan x="1396" dy="18.66">学习生活，每个孩子都有很大的进步，孩子们</tspan><tspan x="1396" dy="18.66">的每一点进步都倾注了我们每位老师的心血，</tspan><tspan x="1396" dy="18.66">当然更离不开家长对我工作的支持和配合，当</tspan><tspan x="1396" dy="18.66">我看着孩子们快乐成长的笑脸，让我倍感欣慰</tspan><tspan x="1396" dy="18.66">。同时也让我深深地感到，作为教师责任的重</tspan><tspan x="1396" dy="18.66">大，为了更好的完成以后的工作，现将本学期</tspan><tspan x="1396" dy="18.66">的工作总结如下：</tspan></text>
<path class="ul" d="M1388,6318 H1695"/>
</g>
<g id="n-p3-a">
<text class="t" x="1728" y="5779">一、班级工作方面</text>
<path class="ul" d="M1722,5789 H1856"/>
<text class="t" x="1889" y="5424.3"><tspan>作为一名幼儿教育工作者，要想完成教书育人</tspan><tspan x="1889" dy="18.67">的责任，首先必须具备良好的政治思想素质，</tspan><tspan x="1889" dy="18.67">树立正确的人生观。在这一年中我认真参加每</tspan><tspan x="1889" dy="18.67">次的业务学习。今年我担任了小三班的教育教</tspan><tspan x="1889" dy="18.67">学工作，我们班有31名幼儿，因为是小班的</tspan><tspan x="1889" dy="18.67">幼儿，所以在各方面都要从新的东西开始学，</tspan><tspan x="1889" dy="18.67">一学期下来，孩子们的进步都很大，看到他们</tspan><tspan x="1889" dy="18.67">的进步，作为老师的我们心里也很开心。根据</tspan><tspan x="1889" dy="18.67">期初的班务计划，我们开展了很多的活动，有</tspan><tspan x="1889" dy="18.67">"小班组自理能力比赛"、"冬季运动会"等活动</tspan><tspan x="1889" dy="18.67">，活动的开展锻炼了孩子们各方面的发展，同</tspan><tspan x="1889" dy="18.67">时也增进了和家长之间的情感。在平时的各项</tspan><tspan x="1889" dy="18.67">教学活动中，我们对进步的幼儿给予及时的表</tspan><tspan x="1889" dy="18.67">扬，对能力较弱的幼儿给予鼓励;针对性地对</tspan><tspan x="1889" dy="18.67">个别幼儿进行鼓励教育，一学期下来我们班的</tspan><tspan x="1889" dy="18.67">孩子在各方面的表现都有很大的进步。还记得</tspan><tspan x="1889" dy="18.67">刚入园的那会儿，孩子们哭成一片，哭着嚷着</tspan><tspan x="1889" dy="18.67">找妈妈，而现在跟我们老师亲密无间，相信通</tspan><tspan x="1889" dy="18.67">过本学期的培养，孩子们在下学期中一定会有</tspan><tspan x="1889" dy="18.67">更大的进步!</tspan></text>
<path class="ul" d="M1882.5,5789 H2186"/>
</g>
<g id="n-p3-b">
<text class="t" x="1728" y="6085.3">二、教育教学工作</text>
<path class="ul" d="M1722,6094.5 H1851.5"/>
<text class="t" x="1885" y="5842.8"><tspan>1、在日常工作中，我能认真的完成各项工作</tspan><tspan x="1885" dy="18.65">任务，课前认真备好课，准备好丰富有趣的教</tspan><tspan x="1885" dy="18.65">育活动，上课时平等对待每一个孩子，给每一</tspan><tspan x="1885" dy="18.65">个孩子有充分展示自己的机会，注意给胆小的</tspan><tspan x="1885" dy="18.65">孩子多一些爱护，给注意力易分散的孩子多一</tspan><tspan x="1885" dy="18.65">些鼓励，给体质弱的孩子多一些照料，给能干</tspan><tspan x="1885" dy="18.65">的孩子多一些挑战。课后不断反思，不断总结</tspan><tspan x="1885" dy="18.65">，每月撰写教育随笔，并上传于教育博客，以</tspan><tspan x="1885" dy="18.65">此提高自身能力与写作能力。2、在教育教学</tspan><tspan x="1885" dy="18.65">活动中，为幼儿创设良好的机会与条件，提供</tspan><tspan x="1885" dy="18.65">充足的操作材料。在一日活动中，注意教给幼</tspan><tspan x="1885" dy="18.65">儿初浅的、简单的生活知识经验，培养幼儿独</tspan><tspan x="1885" dy="18.65">立解决问题的能力。3、认真填写周计划、区</tspan><tspan x="1885" dy="18.65">域观察记录表、班级情况表及各种表格。</tspan></text>
<path class="ul" d="M1878,6094.5 H2181.6"/>
</g>
<g id="n-p3-c">
<text class="t" x="1728" y="6391.8">三、保育工作</text>
<path class="ul" d="M1722,6402 H1822"/>
<text class="t" x="1856.6" y="6149.3"><tspan>对于我们小班幼儿，在保育方面的工作是放在</tspan><tspan x="1856.6" dy="18.66">首要的，家长们最为关心的问题就是自己的宝</tspan><tspan x="1856.6" dy="18.66">宝在园的情况——吃喝拉撒方面的。所以，</tspan><tspan x="1856.6" dy="18.66">在日常生活中我们老师很注重观察全体幼儿从</tspan><tspan x="1856.6" dy="18.66">几方面入手：1、加强幼儿一日常规的养成教</tspan><tspan x="1856.6" dy="18.66">育，加强幼儿各种行为习惯的培养和训练，使</tspan><tspan x="1856.6" dy="18.66">幼儿的生活习惯，学习习惯在原有基础上有了</tspan><tspan x="1856.6" dy="18.66">一定的发展。2、强化幼儿健康意识，保证了</tspan><tspan x="1856.6" dy="18.66">幼儿进餐时心情愉快。注重培养幼儿好的进食</tspan><tspan x="1856.6" dy="18.66">习惯，不挑食，不偏食，进餐时不打闹讲话，</tspan><tspan x="1856.6" dy="18.66">不掉饭粒。3、加强幼儿午睡的管理及巡视，</tspan><tspan x="1856.6" dy="18.66">保证午睡时室内的空气质量。培养幼儿良好的</tspan><tspan x="1856.6" dy="18.66">午睡习惯，不吵闹，尽快入睡，会整理床铺，</tspan><tspan x="1856.6" dy="18.66">衣服折叠整齐放好。</tspan></text>
<path class="ul" d="M1849,6402 H2154"/>
</g>
<g id="n-p3-d">
<text class="t" x="1728" y="6568.3">四、安全工作</text>
<path class="ul" d="M1722,6579 H1822"/>
<text class="t" x="1856.6" y="6456.3"><tspan>安全工作是工作中的重点之重，保障每一位幼</tspan><tspan x="1856.6" dy="18.66">儿的人身安全，是每一位教师的责任和职责，</tspan><tspan x="1856.6" dy="18.66">为了让家长放心，让幼儿能在一个安全的环境</tspan><tspan x="1856.6" dy="18.66">中生活、成长。幼儿园开设了《安全教育》这</tspan><tspan x="1856.6" dy="18.66">门课程我觉得非常适合幼儿园的孩子们，让他</tspan><tspan x="1856.6" dy="18.66">们增强自我保护意识，活动的设计十分贴近幼</tspan><tspan x="1856.6" dy="18.66">儿的日常生活。</tspan></text>
<path class="ul" d="M1849,6579 H2154"/>
</g>
<g id="n-p3-e">
<text class="t" x="1728" y="6836.9">五、家长工作</text>
<path class="ul" d="M1722,6848 H1822"/>
<text class="t" x="1856.6" y="6632.3"><tspan>经过班级教师的共同配合，幼儿的身体及健康</tspan><tspan x="1856.6" dy="18.66">都得到很好的发展。并在此基础上同家长密</tspan><tspan x="1856.6" dy="18.66">切联系，听取家长意见，根据幼儿在家时的表</tspan><tspan x="1856.6" dy="18.66">现，对幼儿进行因材施教，同家长一起纠正幼</tspan><tspan x="1856.6" dy="18.66">儿不良的习惯。 六、认识不足，努力进步。</tspan><tspan x="1856.6" dy="18.66">回顾这一年中的点点滴滴，忙碌而又快乐着!</tspan><tspan x="1856.6" dy="18.66">我觉得在班级的管理方面还有待加强，管理应</tspan><tspan x="1856.6" dy="18.66">该更规范，更具体。尤其在家长工作方面处事</tspan><tspan x="1856.6" dy="18.66">有时会有些急躁，因为想把工作做的更完善，</tspan><tspan x="1856.6" dy="18.66">有时还是会有疏忽的地方，缺乏经验的累积，</tspan><tspan x="1856.6" dy="18.66">在接下来的工作中，我将努力改正自己的不足</tspan><tspan x="1856.6" dy="18.66">，向更高的支点迈步!</tspan></text>
<path class="ul" d="M1849,6848 H2154"/>
</g>

<!-- ================= 篇2 ================= -->
<g id="n-p2">
<text class="t l1 e" x="833.7" y="3010">在幼儿园的工作总结篇2</text>
<path class="ul" d="M628,3026.5 H843.9"/>
</g>
<g id="n-p2-a">
<text class="t e" x="593.5" y="2734.1">一、教育教学方面</text>
<path class="ul" d="M470.6,2746 H601.3"/>
<text class="t" x="145" y="2379.9"><tspan>因我班幼儿年龄较小,对人对事还没有形成一</tspan><tspan x="145" dy="18.68">定的定律,做什么事都是随心所欲,不受约束。</tspan><tspan x="145" dy="18.68">因此我班将9月份的工作重点放在了对幼儿的</tspan><tspan x="145" dy="18.68">一日常规培养上。通过《找朋友》《我是好孩</tspan><tspan x="145" dy="18.68">子》等游戏活动,让幼儿认识了自己的毛巾、</tspan><tspan x="145" dy="18.68">杯子、椅子;游戏《请你跟我这样做》等则初</tspan><tspan x="145" dy="18.68">步培养了幼儿听指令活动的习惯;儿歌《好朋</tspan><tspan x="145" dy="18.68">友》等让幼儿初步知道了该如何去与小朋友相</tspan><tspan x="145" dy="18.68">处。《我是好宝宝》《我最棒》等活动则教育</tspan><tspan x="145" dy="18.68">了幼儿要做个有礼貌的好孩子,激发了幼儿的</tspan><tspan x="145" dy="18.68">自信心。另通过不断的反复的训练,让幼儿熟</tspan><tspan x="145" dy="18.68">知了各个活动环节的音乐节奏,当不同音乐响</tspan><tspan x="145" dy="18.68">起时,知道了该如何去做;与此同时,我们还将幼</tspan><tspan x="145" dy="18.68">儿园的教育理念贯彻落实到了我们的一日教学</tspan><tspan x="145" dy="18.68">活动中。首先是将字卡溶入贯穿至了整个活动</tspan><tspan x="145" dy="18.68">之中,通过加强幼儿对字型字音的熟悉,从而巩</tspan><tspan x="145" dy="18.68">固了幼儿对字词本身的记忆,丰富了幼儿的词</tspan><tspan x="145" dy="18.68">汇量的。另几乎所有的活动都以游戏形式进行</tspan><tspan x="145" dy="18.68">,让幼儿在游戏中学,学中玩,寓教于乐,激发幼儿</tspan><tspan x="145" dy="18.68">对学习的兴趣。</tspan></text>
<path class="ul" d="M138,2746 H443.6"/>
</g>
<g id="n-p2-b">
<text class="t e" x="593.5" y="2985.3">二、卫生保健方面</text>
<path class="ul" d="M470.6,2996 H601.3"/>
<text class="t" x="145" y="2798.7"><tspan>为了确保班上每一位宝宝的身体健康,我班三</tspan><tspan x="145" dy="18.66">位老师分工合作,相互配合,严格执行幼儿园的</tspan><tspan x="145" dy="18.66">各项规章制度,对班级卫生做到了一日一小扫,</tspan><tspan x="145" dy="18.66">每星期一大扫。幼儿的口杯、毛巾坚持每天放</tspan><tspan x="145" dy="18.66">学后用消毒水浸泡半小时,清洗干净后再放消</tspan><tspan x="145" dy="18.66">毒柜消毒。饭后擦嘴的毛巾更是做到了用一次</tspan><tspan x="145" dy="18.66">消毒一次。玩具每星期五消毒一次,班上每晚</tspan><tspan x="145" dy="18.66">坚持开紫外线消毒灯消毒2小时。幼儿的被子</tspan><tspan x="145" dy="18.66">每两星期带回家翻洗晾晒一次。确保了班级的</tspan><tspan x="145" dy="18.66">干净整洁,为幼儿营造了一个温馨舒适的学习</tspan><tspan x="145" dy="18.66">、游戏环境。</tspan></text>
<path class="ul" d="M138,2996 H443.6"/>
</g>
<g id="n-p2-c">
<text class="t e" x="593.5" y="3295.9">三、家园联系方面</text>
<path class="ul" d="M470.6,3306.5 H601.3"/>
<text class="t" x="145" y="3049.1"><tspan>开学第一个星期,为了让家长更加安心,我们坚</tspan><tspan x="145" dy="18.94">持每天都给坐车的宝宝家去电话,及时向她们</tspan><tspan x="145" dy="18.94">反馈宝宝一日在园情况。亲自接送的家长,我</tspan><tspan x="145" dy="18.94">们也是利用晚上来接宝宝的时间,及时向家长</tspan><tspan x="145" dy="18.94">汇报宝宝一日在园表现。待家长和宝宝的情绪</tspan><tspan x="145" dy="18.94">逐渐稳定后,我们则改为不定时的进行电访。</tspan><tspan x="145" dy="18.94">同时每周都会按时发放《家园联系手册》,反</tspan><tspan x="145" dy="18.94">馈宝宝一周在园表现。如当天宝宝在园有什么</tspan><tspan x="145" dy="18.94">特别的表现,我们也会写上一张小便条放在书</tspan><tspan x="145" dy="18.94">包带回家,便于家长了解,做到真正的家园共育</tspan><tspan x="145" dy="18.94">。</tspan></text>
<path class="ul" d="M138,3246.6 H443.6"/>
<text class="t" x="145" y="3300.3"><tspan>在下一个月里,我班需要进一步加强的是:对宝</tspan><tspan x="145" dy="18.7">宝的安全教育工作,从各方面提高宝宝的自我</tspan><tspan x="145" dy="18.7">防患意识。同时也要继续加强对幼儿的常规培</tspan><tspan x="145" dy="18.7">养。</tspan></text>
<path class="ul" d="M138,3366.5 H443.6"/>
</g>

<!-- ================= 篇4 ================= -->
<g id="n-p4">
<text class="t l1 e" x="836" y="4038.3">在幼儿园的工作总结篇4</text>
<path class="ul" d="M625,4053 H843.8"/>
</g>
<g id="n-p4-t1">
<text class="t" x="302.7" y="3420.9"><tspan>面对世界日渐严峻的环保问题，世人都逐渐认</tspan><tspan x="302.7" dy="18.57">识到：环境保护，教育为本，提高全民环保素</tspan><tspan x="302.7" dy="18.57">质，必须从娃娃抓起。我们幼儿园一直把创建</tspan><tspan x="302.7" dy="18.57">"绿色幼儿园"占重要地位，保护环境、美化环</tspan><tspan x="302.7" dy="18.57">境是人类自下而上的需要，在持之以恒地对幼</tspan><tspan x="302.7" dy="18.57">儿进行环境保护教育下，我们大班年级组本学</tspan><tspan x="302.7" dy="18.57">期乘着3月22日世界"水"日的东风，紧紧围绕</tspan><tspan x="302.7" dy="18.57">"水资源"，开展了"清清水世界"的环保主题活</tspan><tspan x="302.7" dy="18.57">动，通过这样的活动，幼儿对"水资源"的了解</tspan><tspan x="302.7" dy="18.57">更深了，对"保护水"环保意识日渐提高。</tspan></text>
<path class="ul" d="M295.6,3598.7 H601.3"/>
</g>
<g id="n-p4-t2">
<text class="t" x="302.7" y="3653.1"><tspan>本次的"清清水世界"的探索活动进行了近两周</tspan><tspan x="302.7" dy="18.5">，在这一段时间里幼儿始终对水环境有着浓厚</tspan><tspan x="302.7" dy="18.5">的探索兴趣，在活动中，幼儿亲近自然，接触</tspan><tspan x="302.7" dy="18.5">社会，了解了人与环境的依存关系，懂得了如</tspan><tspan x="302.7" dy="18.5">何保护水资源并具有了初步的环保行为，由于</tspan><tspan x="302.7" dy="18.5">一部分的活动是请家长帮助幼儿共同完成，因</tspan><tspan x="302.7" dy="18.5">此保护水资源已从幼儿园延伸到家庭、延伸到</tspan><tspan x="302.7" dy="18.5">社会，这也是我们活动所想要达到的目的。</tspan></text>
<path class="ul" d="M295.6,3793 H601.3"/>
</g>
<g id="n-p4-a">
<text class="t e" x="593.5" y="3959.3">(1)、幼儿能力的提高</text>
<path class="ul" d="M450,3970.5 H601.3"/>
<text class="t" x="127.7" y="3847.6"><tspan>在活动中幼儿的探索能力、记录能力、解决问</tspan><tspan x="127.7" dy="18.6">题能力、讨论交流能力都得到了进一步的提高</tspan><tspan x="127.7" dy="18.6">，每当一个问题提出，他们总是自己想办法解</tspan><tspan x="127.7" dy="18.6">决，通过各种途径查找资料与信息并用自己的</tspan><tspan x="127.7" dy="18.6">方式记录下来，在活动中，他们大胆交流大胆</tspan><tspan x="127.7" dy="18.6">讲述，注意倾听同伴的交流能发现问题提出不</tspan><tspan x="127.7" dy="18.6">同的见解。</tspan></text>
<path class="ul" d="M120,3970.5 H425.6"/>
</g>
<g id="n-p4-b">
<text class="t e" x="594.7" y="4117.3">(2)、幼儿学会了学习</text>
<path class="ul" d="M451.6,4127.5 H602"/>
<text class="t" x="127" y="4023.3"><tspan>在活动中幼儿通过自己的努力了解了水资源的</tspan><tspan x="127" dy="18.86">污染情况，这些知识经验的获得并不是老师传</tspan><tspan x="127" dy="18.86">授的，而是他们通过各种途径收集到的。他们</tspan><tspan x="127" dy="18.86">学得主动，学得积极。面对这些污染他们又想</tspan><tspan x="127" dy="18.86">出了许多的办法来改变这些污染的状况，充分</tspan><tspan x="127" dy="18.86">展示了他们的聪明才智，争做小小发明家。</tspan></text>
<path class="ul" d="M120.5,4127.5 H426"/>
</g>
<g id="n-p4-c">
<text class="t e" x="594.7" y="4497.8">(3)、幼儿科学行为习惯的养成</text>
<path class="ul" d="M393.8,4508 H602"/>
<text class="t" x="70" y="4181.3"><tspan>地球是我们人类赖以生存的地方，通过"清清</tspan><tspan x="70" dy="18.7">水世界"的主题活动使幼儿幼小的心田里埋下</tspan><tspan x="70" dy="18.7">了保护环境的种子，知道要爱护花草树木，要</tspan><tspan x="70" dy="18.7">保护水资源，要节约用水，更知道要珍惜自然</tspan><tspan x="70" dy="18.7">资源。孩子们在一系列的活动中逐渐养成了良</tspan><tspan x="70" dy="18.7">好的科学行为习惯，这些行为习惯的养成将使</tspan><tspan x="70" dy="18.7">幼儿终生受益。</tspan></text>
<path class="ul" d="M62,4304 H365.6"/>
<text class="t" x="70" y="4357.7"><tspan>地球是人类生存的星球，自古以来，由于人类</tspan><tspan x="70" dy="18.65">对对大自然的掠夺，造成令人担忧的势态，大</tspan><tspan x="70" dy="18.65">气的污染，臭氧层的破坏，土地沙漠化，海洋</tspan><tspan x="70" dy="18.65">生态的失衡，绿色屏障的锐减，垃圾越来越多</tspan><tspan x="70" dy="18.65">，环境问题触目惊心。</tspan></text>
<path class="ul" d="M62,4443 H365.6"/>
<text class="t" x="70" y="4496.3"><tspan>全球性的环境问题要加以控制，必须从环境教</tspan><tspan x="70" dy="18.68">育入手，幼教观念现代化面临生态文明的挑战</tspan><tspan x="70" dy="18.68">，提出对幼儿进行学会关心教育，即关心社会</tspan><tspan x="70" dy="18.68">与国家的生态利益，关心全球的生活的条件，</tspan><tspan x="70" dy="18.68">关心其他物种。因此在幼儿探索水污染的基础</tspan><tspan x="70" dy="18.68">上进一步延伸到其他的环境污染问题使孩子从</tspan><tspan x="70" dy="18.68">小具有环境知识，知道大自然是个有机的整体</tspan><tspan x="70" dy="18.68">，人是大自然的一部分，人类应与大自然和睦</tspan><tspan x="70" dy="18.68">相处，人的生存要依存与大自然中那些有生命</tspan><tspan x="70" dy="18.68">和无生命的物质，我们要保护环境，进一步增</tspan><tspan x="70" dy="18.68">强幼儿的环保意识，使幼儿具有初步的环保行</tspan><tspan x="70" dy="18.68">为。</tspan></text>
<path class="ul" d="M62,4711 H365.6"/>
</g>
</g>
</svg>
